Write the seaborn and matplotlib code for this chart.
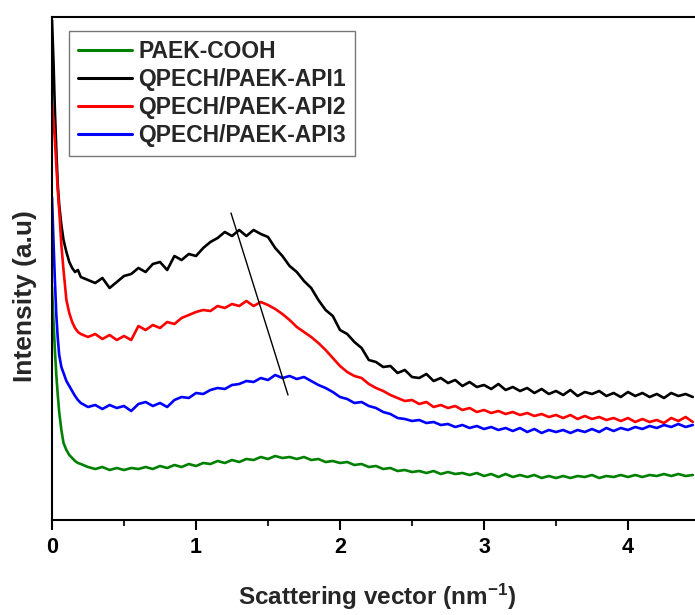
import numpy as np
import pandas as pd
import matplotlib
matplotlib.use("Agg")
import matplotlib.pyplot as plt
import seaborn as sns
from matplotlib.ticker import MultipleLocator
from matplotlib.lines import Line2D

# ---------------- data ----------------
q = [0.0, 0.01, 0.02, 0.03, 0.04, 0.05, 0.065, 0.08, 0.1, 0.12, 0.14, 0.16, 0.18, 0.2,
     0.25, 0.30, 0.35, 0.40, 0.45, 0.50, 0.55, 0.60, 0.65, 0.70,
     0.75, 0.80, 0.85, 0.90, 0.95, 1.00, 1.05, 1.10, 1.15, 1.20,
     1.25, 1.30, 1.35, 1.40, 1.45, 1.50, 1.55, 1.60, 1.65, 1.70,
     1.75, 1.80, 1.85, 1.90, 1.95, 2.00, 2.05, 2.10, 2.15, 2.20,
     2.25, 2.30, 2.35, 2.40, 2.45, 2.50, 2.55, 2.60, 2.65, 2.70,
     2.75, 2.80, 2.85, 2.90, 2.95, 3.00, 3.05, 3.10, 3.15, 3.20,
     3.25, 3.30, 3.35, 3.40, 3.45, 3.50, 3.55, 3.60, 3.65, 3.70,
     3.75, 3.80, 3.85, 3.90, 3.95, 4.00, 4.05, 4.10, 4.15, 4.20,
     4.25, 4.30, 4.35, 4.40, 4.45]

paek_cooh = [233, 200, 170, 145, 125, 108, 90, 77, 70, 65, 62, 59, 57, 56,
             53, 51, 53, 50, 52, 50, 52, 51, 53, 51,
             54, 52, 55, 53, 56, 54, 57, 56, 59, 57,
             60, 58, 61, 60, 63, 61, 64, 62, 63, 61,
             63, 60, 61, 58, 59, 57, 58, 55, 56, 53,
             54, 51, 52, 49, 50, 48, 49, 47, 49, 46,
             48, 46, 47, 45, 47, 44, 46, 43, 46, 43,
             45, 43, 45, 42, 44, 42, 44, 42, 44, 43,
             45, 42, 44, 43, 45, 43, 45, 43, 45, 44,
             46, 44, 46, 44, 45]

api1 = [500, 460, 410, 370, 335, 315, 295, 280, 268, 258, 252, 248, 250, 243,
        240, 237, 242, 232, 238, 244, 246, 252, 248, 256,
        258, 250, 264, 260, 266, 264, 272, 278, 282, 288,
        284, 290, 284, 290, 286, 283, 272, 264, 254, 248,
        239, 232, 220, 210, 204, 190, 186, 178, 172, 160,
        158, 153, 154, 147, 150, 143, 142, 146, 139, 142,
        137, 140, 134, 138, 133, 135, 131, 136, 130, 133,
        129, 132, 127, 131, 126, 129, 125, 130, 124, 128,
        126, 129, 124, 127, 123, 128, 124, 127, 123, 126,
        122, 127, 124, 126, 123]

api2 = [417, 400, 380, 355, 330, 310, 275, 250, 220, 207, 198, 192, 188, 186,
        183, 186, 181, 185, 180, 184, 180, 194, 190, 195,
        192, 198, 196, 202, 205, 208, 210, 209, 214, 212,
        216, 214, 219, 214, 218, 215, 211, 206, 200, 193,
        188, 183, 177, 170, 162, 154, 148, 144, 142, 136,
        132, 129, 125, 122, 119, 120, 116, 118, 113, 115,
        112, 114, 110, 112, 108, 110, 107, 109, 106, 108,
        105, 107, 104, 106, 103, 105, 102, 105, 101, 104,
        101, 103, 100, 102, 99, 102, 98, 101, 98, 100,
        97, 102, 99, 103, 98]

api3 = [323, 280, 240, 205, 182, 165, 153, 147, 139, 134, 129, 124, 120, 117,
        113, 115, 111, 115, 112, 114, 109, 116, 118, 114,
        117, 113, 120, 123, 122, 127, 126, 130, 132, 131,
        135, 136, 139, 138, 142, 140, 145, 142, 144, 141,
        143, 139, 135, 132, 128, 123, 121, 117, 118, 114,
        112, 108, 106, 102, 101, 99, 100, 97, 98, 95,
        96, 93, 95, 92, 94, 91, 93, 90, 92, 89,
        92, 88, 91, 87, 90, 88, 90, 87, 90, 88,
        91, 88, 92, 89, 92, 90, 93, 91, 94, 92,
        95, 93, 96, 93, 95]

series_names = ["PAEK-COOH", "QPECH/PAEK-API1", "QPECH/PAEK-API2", "QPECH/PAEK-API3"]
series_colors = ["#008000", "#000000", "#FF0000", "#0000FF"]

# guide line drawn across the peak maxima
guide_q = [1.243, 1.639]
guide_I = [307, 125]

xticks = [0, 1, 2, 3, 4]

# ---------------- build table ----------------
frames = []
for name, vals in zip(series_names, [paek_cooh, api1, api2, api3]):
    frames.append(pd.DataFrame({"q": q, "I": vals, "sample": name}))
df = pd.concat(frames, ignore_index=True)

# ---------------- style ----------------
sns.set_style("ticks")
plt.rcParams["font.family"] = ["Liberation Sans", "DejaVu Sans"]
plt.rcParams["font.weight"] = "bold"
plt.rcParams["mathtext.fontset"] = "custom"
plt.rcParams["mathtext.rm"] = "Liberation Sans:bold"
plt.rcParams["mathtext.bf"] = "Liberation Sans:bold"
plt.rcParams["mathtext.it"] = "Liberation Sans:bold"

W, H = 695, 615
fig = plt.figure(figsize=(W / 100, H / 100), dpi=100)
fig.patch.set_facecolor("white")
ax = fig.add_axes([52 / W, 1 - 520 / H, 1 - 52 / W, (520 - 17) / H])

sns.lineplot(data=df, x="q", y="I", hue="sample", hue_order=series_names,
             palette=series_colors, estimator=None, sort=False,
             linewidth=1.9, ax=ax, legend=False)

ax.plot(guide_q, guide_I, color="black", linewidth=1.0)

ax.set_xlim(0, (W - 52) / 144)
ax.set_ylim(0, 503)
ax.set_xticks(xticks)
ax.set_xticklabels([str(t) for t in xticks])
ax.xaxis.set_minor_locator(MultipleLocator(0.5))
ax.set_yticks([])
ax.set_xlabel("")
ax.set_ylabel("")

for s in ["left", "bottom", "top"]:
    ax.spines[s].set_linewidth(1.5)
    ax.spines[s].set_color("black")
ax.spines["right"].set_visible(False)

ax.tick_params(axis="x", which="major", direction="out", length=7.5, width=1.5,
               labelsize=15.5, pad=5, colors="black")
ax.tick_params(axis="x", which="minor", direction="out", length=4.5, width=1.5)
for lab in ax.get_xticklabels():
    lab.set_fontweight("bold")

# legend
handles = [Line2D([0], [0], color=c, linewidth=2.2) for c in series_colors]
leg = ax.legend(handles, series_names, loc="upper left",
                bbox_to_anchor=((69 - 52) / (W - 52), (520 - 31) / 503),
                borderaxespad=0, frameon=True, fancybox=False,
                prop={"weight": "bold", "size": 16.5},
                handlelength=2.35, handletextpad=0.3, labelspacing=0.22,
                borderpad=0.38)
leg.get_frame().set_edgecolor("#555555")
leg.get_frame().set_linewidth(1.0)

fig.text(238 / W, 1 - 605 / H, r"Scattering vector (nm$^{-1}$)",
         ha="left", va="baseline", fontsize=17.5, fontweight="bold")
fig.text(25 / W, 1 - 296 / H, "Intensity (a.u)", rotation=90,
         ha="center", va="center", fontsize=19, fontweight="bold")

fig.savefig("out.png", dpi=100, facecolor="white")
